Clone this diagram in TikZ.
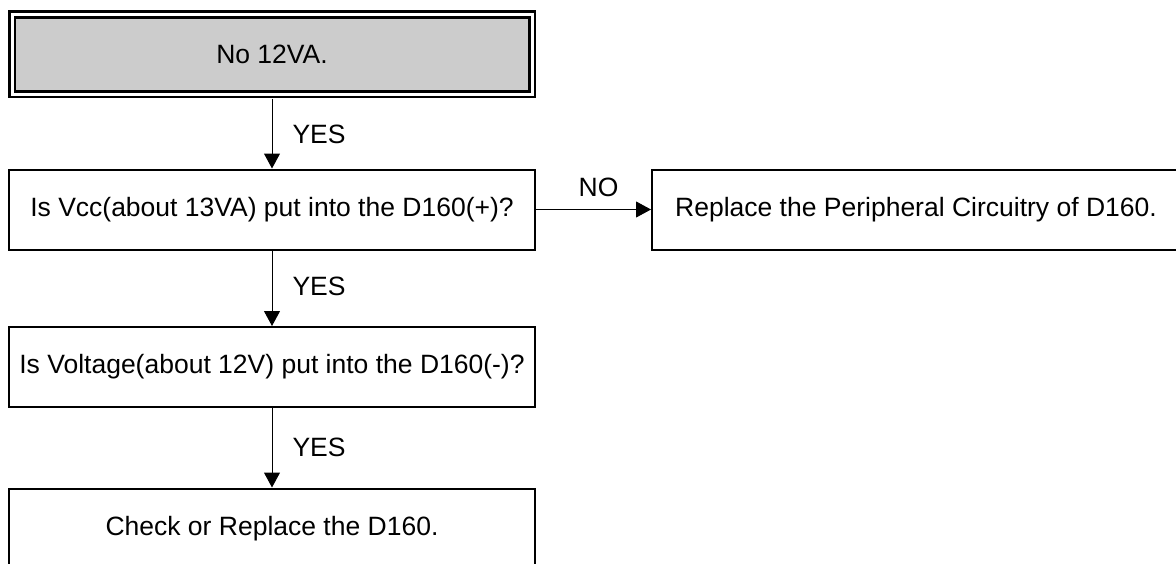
\documentclass[tikz,border=0pt]{standalone}
\usepackage{fontspec}
\setmainfont{Liberation Sans}
\usetikzlibrary{arrows.meta}
\begin{document}
\begin{tikzpicture}[x=1pt,y=-1pt,
  txt/.style={font=\fontsize{26.5}{30}\selectfont},
  box/.style={txt, draw=black, line width=2pt, minimum width=526pt, minimum height=80pt, inner sep=0pt},
  topbox/.style={txt, draw=black, line width=2.75pt, double=white, double distance=3pt,
     fill=black!20, minimum width=520pt, minimum height=79.5pt, inner sep=0pt, outer sep=4.5pt},
  arr/.style={line width=1pt, -{Triangle[length=15pt,width=16pt]}},
  lbl/.style={txt, inner sep=0pt}
]
\useasboundingbox (0,0) rectangle (1176,563);
\node[topbox] (start) at (272,54.25) {No 12VA.};
\node[box] (q1) at (272,209.5) {Is Vcc(about 13VA) put into the D160(+)?};
\node[box, minimum width=528pt] (r1) at (916,209.5) {Replace the Peripheral Circuitry of D160.};
\node[box] (q2) at (272,367) {Is Voltage(about 12V) put into the D160(-)?};
\node[box] (e1) at (272,528.5) {Check or Replace the D160.};
\draw[arr] (start.south) -- node[lbl, anchor=west, xshift=20pt, yshift=-1pt] {YES} (q1.north);
\draw[arr] (q1.south) -- node[lbl, anchor=west, xshift=20pt, yshift=1.5pt] {YES} (q2.north);
\draw[arr] (q2.south) -- node[lbl, anchor=west, xshift=20pt, yshift=0.5pt] {YES} (e1.north);
\draw[arr] (q1.east) -- node[lbl, anchor=south, yshift=12pt, xshift=5pt] {NO} (r1.west);
\end{tikzpicture}
\end{document}
